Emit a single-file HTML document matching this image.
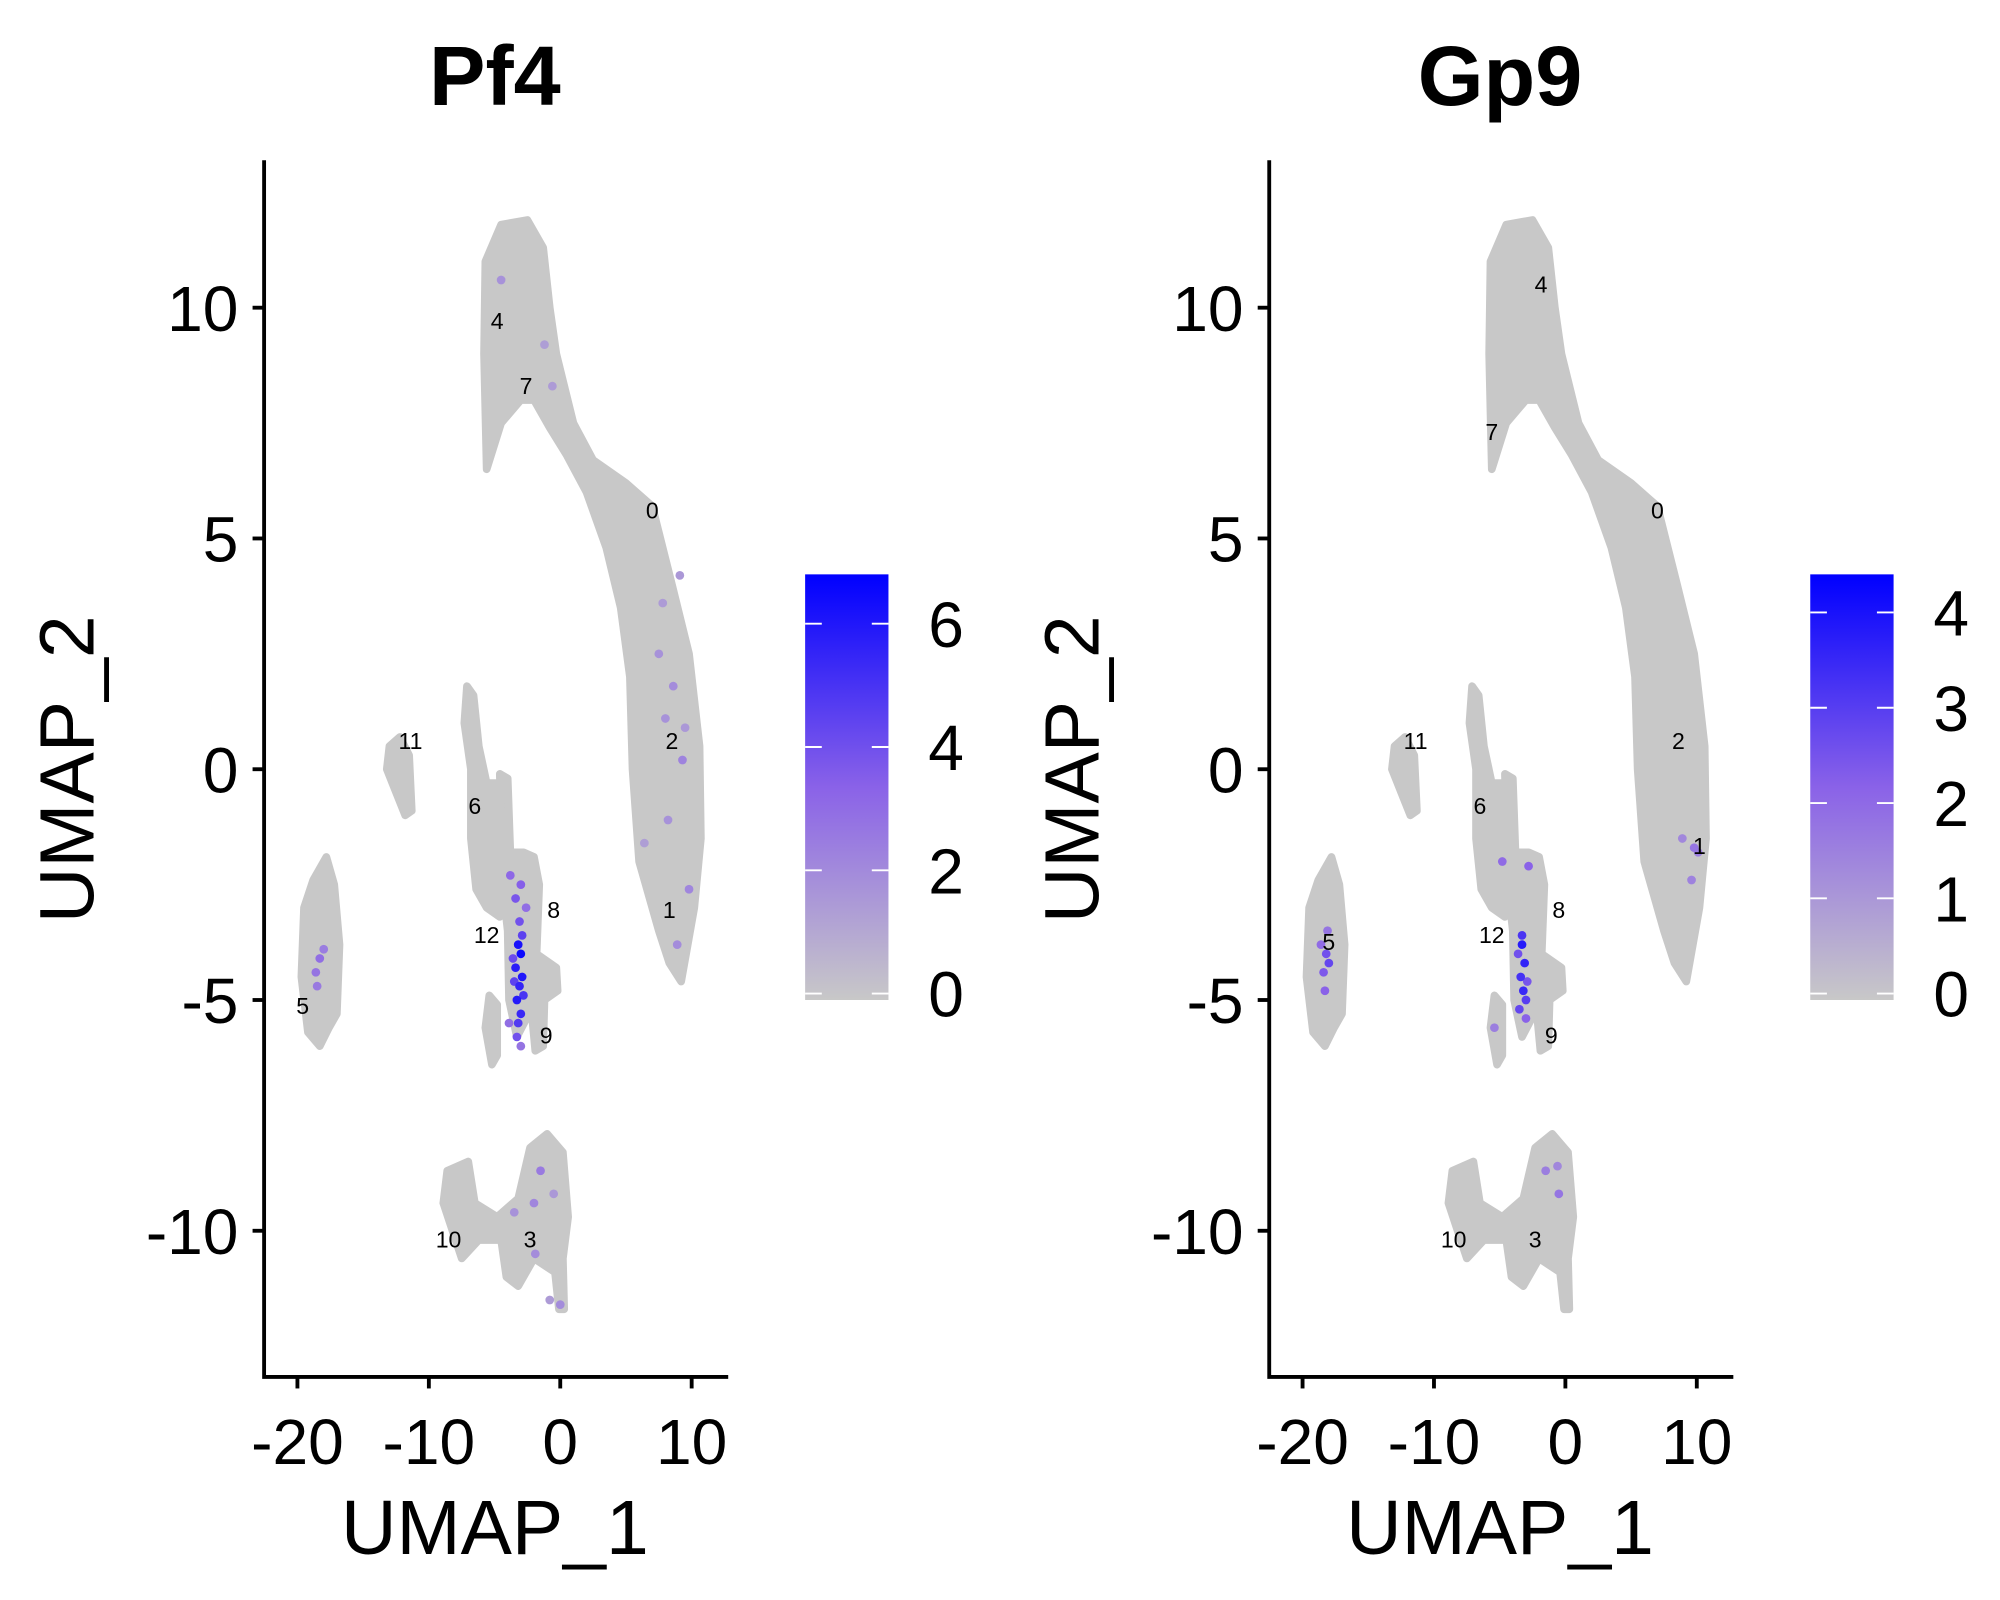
<!DOCTYPE html>
<html><head><meta charset="utf-8">
<style>
html,body{margin:0;padding:0;background:#fff;}
svg{display:block;font-family:"Liberation Sans",Arial,sans-serif;}
</style></head>
<body>
<svg id="chart" width="2000" height="1600" viewBox="0 0 1560 1248" xmlns="http://www.w3.org/2000/svg">
<defs>
<linearGradient id="g1" x1="0" y1="1" x2="0" y2="0">
<stop offset="0" stop-color="#c8c8c8"/><stop offset="0.5" stop-color="#8a62e8"/><stop offset="1" stop-color="#0000ff"/>
</linearGradient>
</defs>
</svg>
<script>
// ---- data ----
const xTicks = [-20, -10, 0, 10];
const yTicks = [10, 5, 0, -5, -10];
const panelTitles = ["Pf4", "Gp9"];
const colorMax = [6.8, 4.4];
const colorTicks0 = [0, 2, 4, 6];
const colorTicks1 = [0, 1, 2, 3, 4];
const clusterMain = [[-5.6,6.5],[-5.8,9],[-5.7,11],[-4.5,11.8],[-2.5,11.9],[-1.3,11.3],[-0.8,10],[-0.3,9],[1,7.5],[2.5,6.7],[5,6.2],[7,5.7],[8.5,4],[9.8,2.5],[10.6,0.5],[10.7,-1.5],[10.2,-3],[9.2,-4.6],[8.3,-4.2],[7.5,-3.5],[6,-2],[5.5,0],[5.3,2],[4.6,3.5],[3.5,4.8],[2,6],[0.5,6.8],[-0.8,7.4],[-2,8],[-3,8],[-4.5,7.5]];
const cluster11 = [[-13,0.5],[-12.2,0.7],[-11.5,0.3],[-11.3,-0.9],[-11.8,-1],[-12.5,-0.5],[-13.2,0]];
const cluster5 = [[-17.8,-1.9],[-17.2,-2.5],[-16.8,-3.8],[-17,-5.3],[-17.6,-5.6],[-18.3,-6],[-19.2,-5.7],[-19.7,-4.5],[-19.5,-3],[-18.8,-2.4]];
const cluster6 = [[-7.1,1.8],[-6.6,1.6],[-6.2,0.5],[-5.6,-0.3],[-4.4,-0.3],[-4.3,-1.8],[-4.6,-3.2],[-5.6,-3],[-6.4,-2.6],[-6.8,-1.5],[-6.8,0],[-7.3,1]];
const cluster8 = [[-4.6,-0.1],[-4,-0.2],[-3.8,-1.8],[-2.8,-1.8],[-2,-1.9],[-1.6,-2.5],[-1.8,-4],[-0.3,-4.3],[-0.2,-4.8],[-1.2,-5],[-1.3,-6],[-1.9,-6.1],[-2.2,-5.2],[-3.3,-5.8],[-3.9,-5],[-4,-3.5],[-4.4,-2.5]];
const cluster9 = [[-5.4,-4.9],[-4.8,-5.1],[-4.8,-6.2],[-5.2,-6.4],[-5.7,-5.6]];
const cluster10 = [[-8.6,-8.7],[-7,-8.5],[-6.5,-9.4],[-4.8,-9.7],[-3.2,-9.3],[-2.3,-8.2],[-1,-7.9],[0.2,-8.3],[0.6,-9.7],[0.2,-10.6],[0.3,-11.7],[-0.1,-11.7],[-0.4,-10.9],[-2,-10.6],[-3.2,-11.2],[-4.1,-11],[-4.5,-10.2],[-6.2,-10.2],[-7.5,-10.6],[-8.2,-10],[-8.9,-9.4]];
const clusterShapes = [clusterMain, cluster11, cluster5, cluster6, cluster8, cluster9, cluster10];
// expressing cells: x, y, value
const pf4X = [-3.2,-3.0,-3.4,-2.9,-3.1,-3.3,-2.8,-3.0,-3.2,-3.5,-2.9,-3.1,-3.4,-3.0,-3.3,-3.6,-3.8,-2.6,-3.9,-3.0,7.5,8.6,9.3,8.2,9.8,7.8,9.1,8.9,6.4,8.0,9.5,-18.3,-18.6,-18.0,-18.5,-2.0,-1.5,-3.5,-1.9,-0.5,-0.8,-4.5,-1.2,-0.6,0];
const pf4Y = [-3.8,-4.0,-4.3,-4.5,-4.7,-5.0,-4.9,-5.3,-5.5,-4.6,-3.6,-3.3,-2.8,-2.5,-5.8,-4.1,-2.3,-3.0,-5.5,-6.0,2.5,1.8,0.2,-1.1,-2.6,3.6,4.2,-3.8,-1.6,1.1,0.9,-4.1,-4.4,-3.9,-4.7,-9.4,-8.7,-9.6,-10.5,-9.2,-11.5,10.6,9.2,8.3,-11.6];
const pf4V = [6.2,6.5,5.8,6.0,5.5,5.9,5.0,5.4,4.8,4.5,4.5,4.0,3.8,3.5,4.0,4.2,3.2,3.0,3.0,2.8,1.8,2.0,2.3,1.8,2.2,1.5,1.6,2.0,1.4,1.8,1.6,3.0,2.8,2.5,2.6,2.2,2.6,1.8,2.0,1.6,1.5,1.8,1.4,1.5,2.0];
const gp9X = [-3.3,-3.1,-3.4,-3.2,-3.0,-3.5,-3.3,-2.9,-3.6,-3.0,-18.2,-18.4,-18.0,-18.6,-18.3,-18.1,-4.8,-2.8,9.8,10.1,8.9,-0.5,-1.5,-5.4,9.6,-0.6];
const gp9Y = [-3.8,-4.2,-4.5,-4.8,-5.0,-5.2,-3.6,-4.6,-4.0,-5.4,-4.0,-4.4,-4.2,-3.8,-4.8,-3.5,-2.0,-2.1,-1.7,-1.8,-1.5,-9.2,-8.7,-5.6,-2.4,-8.6];
const gp9V = [3.8,3.6,3.3,3.5,3.0,2.8,3.2,2.5,2.6,2.2,2.6,2.4,2.8,2.0,2.2,1.8,2.0,2.2,1.8,1.6,1.4,1.8,1.6,1.6,1.5,1.4];
const labelsText = ["0","1","2","3","4","5","6","7","8","9","10","11","12"];
const labelsX0 = [7.0,8.3,8.5,-2.3,-4.8,-19.6,-6.5,-2.6,-0.5,-1.07,-8.5,-11.4,-5.6];
const labelsY0 = [5.6,-3.06,0.6,-10.2,9.7,-5.14,-0.8,8.3,-3.06,-5.78,-10.2,0.6,-3.6];
const labelsX1 = [7.0,10.2,8.6,-2.3,-1.85,-18.0,-6.5,-5.6,-0.5,-1.07,-8.5,-11.4,-5.6];
const labelsY1 = [5.6,-1.67,0.6,-10.2,10.5,-3.75,-0.8,7.3,-3.06,-5.78,-10.2,0.6,-3.6];

// ---- drawing ----
const NS = "http://www.w3.org/2000/svg";
const svg = document.getElementById("chart");
function mk(tag, attrs, parent) {
  const e = document.createElementNS(NS, tag);
  for (const k in attrs) e.setAttribute(k, attrs[k]);
  (parent || svg).appendChild(e);
  return e;
}
function lerp(a,b,t){return Math.round(a+(b-a)*t);}
function colorFor(v, max) {
  const t = Math.max(0, Math.min(1, v / max));
  let c0, c1, u;
  if (t < 0.5) { c0=[200,200,200]; c1=[138,98,232]; u=t/0.5; } else { c0=[138,98,232]; c1=[0,0,255]; u=(t-0.5)/0.5; }
  return "rgb(" + lerp(c0[0],c1[0],u) + "," + lerp(c0[1],c1[1],u) + "," + lerp(c0[2],c1[2],u) + ")";
}
const panels = [
  {off:0, xs:pf4X, ys:pf4Y, vs:pf4V, lx:labelsX0, ly:labelsY0, ct:colorTicks0},
  {off:784, xs:gp9X, ys:gp9Y, vs:gp9V, lx:labelsX1, ly:labelsY1, ct:colorTicks1}
];
panels.forEach((p, pi) => {
  const g = mk("g", {});
  
  
  const sx = x => 437 + p.off + x * 10.25;
  const sy = y => 600 - y * 36;
  clusterShapes.forEach((poly, ci) => {
    const e = mk("polygon", {points: poly.map(q => sx(q[0]) + "," + sy(q[1])).join(" "), fill:"#c8c8c8", stroke:"#c8c8c8", "stroke-width":6, "stroke-linejoin":"round"}, g);
    
    
  });
  const order = p.vs.map((v,i)=>i).sort((a,b)=>p.vs[a]-p.vs[b]);
  order.forEach(i => {
    const e = mk("circle", {cx:sx(p.xs[i]), cy:sy(p.ys[i]), r:3.4, fill:colorFor(p.vs[i], colorMax[pi])}, g);
    
    
  });
  labelsText.forEach((t, i) => {
    const e = mk("text", {x:sx(p.lx[i]), y:sy(p.ly[i]) + 6, "font-size":18, "text-anchor":"middle", fill:"#000"}, g);
    e.textContent = t;
    
    
  });
  const ax = mk("path", {d:"M" + (206+p.off) + ",125 V1074 H" + (568+p.off), fill:"none", stroke:"#000", "stroke-width":3}, g);
  
  
  xTicks.forEach(v => {
    const x = sx(v);
    const tk = mk("line", {x1:x, x2:x, y1:1074, y2:1083, stroke:"#000", "stroke-width":3}, g);
    
    
    const tl = mk("text", {x:x, y:1142, "font-size":50, "text-anchor":"middle"}, g);
    tl.textContent = v;
    
    
  });
  yTicks.forEach(v => {
    const y = sy(v);
    const tk = mk("line", {x1:197+p.off, x2:206+p.off, y1:y, y2:y, stroke:"#000", "stroke-width":3}, g);
    
    
    const tl = mk("text", {x:186+p.off, y:y+18, "font-size":50, "text-anchor":"end"}, g);
    tl.textContent = v;
    
    
  });
  const xt = mk("text", {x:386+p.off, y:1212, "font-size":60, "text-anchor":"middle"}, g);
  xt.textContent = "UMAP_1";
  
  
  const yt = mk("text", {x:0, y:0, "font-size":60, "text-anchor":"middle", transform:"translate(" + (73+p.off) + ",600) rotate(-90)"}, g);
  yt.textContent = "UMAP_2";
  
  
  const tt = mk("text", {x:386+p.off, y:82, "font-size":66, "font-weight":"bold", "text-anchor":"middle"}, g);
  tt.textContent = panelTitles[pi];
  
  
  const cbTop = 448, cbBot = 780, zeroY = 775;
  const scale = (zeroY - cbTop) / colorMax[pi];
  const cb = mk("rect", {x:628+p.off, y:cbTop, width:65, height:cbBot-cbTop, fill:"url(#g1)"}, g);
  
  
  p.ct.forEach(v => {
    const y = zeroY - v * scale;
    const t1 = mk("line", {x1:628+p.off, x2:641+p.off, y1:y, y2:y, stroke:"#fff", "stroke-width":1.5}, g);
    
    
    const t2 = mk("line", {x1:680+p.off, x2:693+p.off, y1:y, y2:y, stroke:"#fff", "stroke-width":1.5}, g);
    
    
    const tl = mk("text", {x:724+p.off, y:y+18, "font-size":50}, g);
    tl.textContent = v;
    
    
  });
});
</script>
</body></html>
